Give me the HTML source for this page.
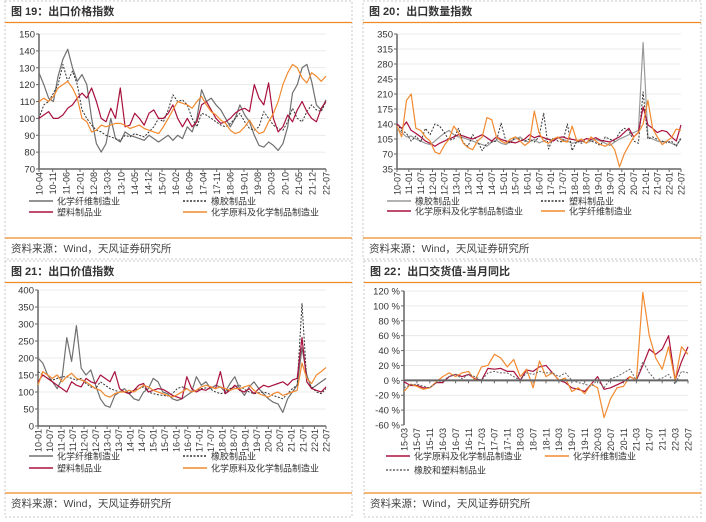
<!DOCTYPE html>
<html><head><meta charset="utf-8"><style>
body{margin:0;background:#fff;}
svg{display:block;font-family:"Liberation Sans","Noto Sans CJK SC",sans-serif;}
</style></head><body>
<svg id="s" width="706" height="522" viewBox="0 0 706 522" xmlns="http://www.w3.org/2000/svg"></svg>
<script>
// ---- Panel 1 data: export price index ----
const p1Labels=["10-04","10-11","11-06","12-01","12-08","13-03","13-10","14-05","14-12","15-07","16-02","16-09","17-04","17-11","18-06","19-01","19-08","20-03","20-10","21-05","21-12","22-07"];
const p1Fiber=[127,120,112,110,125,135,141,130,122,126,120,100,85,80,85,100,88,86,92,90,89,88,87,90,88,86,88,90,87,90,88,95,92,100,117,110,112,108,105,100,95,100,108,102,98,90,84,83,86,84,81,85,95,115,120,130,132,122,108,105,111];
const p1Rubber=[100,108,110,115,120,132,122,128,120,105,100,96,93,92,90,89,88,87,90,89,91,90,89,92,95,100,98,105,114,110,111,108,100,95,103,102,100,98,96,95,97,100,103,98,94,93,95,104,100,96,94,93,98,106,100,98,104,108,105,104,110];
const p1Plastic=[100,102,104,100,100,102,106,108,112,115,112,118,110,100,98,106,100,118,95,96,103,100,96,103,105,100,100,103,108,100,95,100,95,98,108,110,105,100,97,98,100,103,105,106,104,120,112,108,121,100,92,95,102,98,105,110,104,100,98,106,110];
const p1Chem=[110,112,110,113,118,120,122,118,112,100,98,92,93,96,95,96,97,97,96,94,95,96,94,93,92,91,95,100,105,110,109,108,106,110,113,108,104,102,99,97,93,91,92,95,99,94,91,92,98,103,110,120,127,132,130,124,121,127,125,122,125];
// ---- Panel 2 data: export volume index ----
const p2Labels=["10-07","11-01","11-07","12-01","12-07","13-01","13-07","14-01","14-07","15-01","15-07","16-01","16-07","17-01","17-07","18-01","18-07","19-01","19-07","20-01","20-07","21-01","21-07","22-01","22-07"];
const p2Rubber=[130,120,110,112,105,100,95,92,100,110,118,125,115,110,108,104,100,96,92,88,98,102,95,92,100,105,110,100,98,104,96,100,105,102,108,104,100,95,98,100,96,100,104,100,95,90,98,105,110,115,120,125,330,110,105,100,98,100,95,90,105];
const p2Plastic=[140,125,118,100,112,98,130,115,140,135,120,102,105,130,96,88,115,100,78,95,98,100,142,100,95,110,104,100,105,98,110,165,82,108,100,98,140,78,100,95,106,100,96,90,110,104,100,120,130,125,100,95,215,105,110,104,100,96,100,88,108];
const p2Chem=[140,130,145,125,118,110,100,95,88,95,100,105,110,115,112,108,105,110,115,108,100,110,104,100,98,96,100,105,115,108,112,108,104,100,108,110,106,104,102,100,106,104,108,102,100,98,104,110,120,130,110,120,180,138,130,120,125,122,110,100,138];
const p2Fiber=[135,110,195,210,130,125,110,100,75,70,90,105,135,120,95,85,80,100,110,155,150,110,100,95,105,110,100,90,98,170,120,100,95,105,110,100,98,135,100,105,95,110,100,92,88,95,80,40,70,90,110,120,140,195,130,110,92,100,108,128,125];
// ---- Panel 3 data: export value index ----
const p3Labels=["10-01","10-07","11-01","11-07","12-01","12-07","13-01","13-07","14-01","14-07","15-01","15-07","16-01","16-07","17-01","17-07","18-01","18-07","19-01","19-07","20-01","20-07","21-01","21-07","22-01","22-07"];
const p3Fiber=[200,185,150,130,110,140,260,190,295,170,150,165,120,80,60,55,90,100,110,95,80,75,100,110,140,130,100,95,80,75,80,90,100,145,120,130,110,120,115,100,125,145,110,90,115,130,110,95,80,70,65,40,80,100,120,230,150,110,120,130,140];
const p3Rubber=[160,150,140,135,140,145,145,140,135,140,125,115,110,130,120,110,105,100,100,98,105,110,115,100,95,92,90,88,95,110,115,110,100,105,110,112,108,100,95,98,110,115,120,108,100,95,98,100,95,90,85,80,95,110,120,360,130,115,100,95,110];
const p3Plastic=[130,150,140,130,120,110,100,130,120,115,140,130,125,150,140,130,160,110,100,95,105,120,125,100,105,110,108,100,90,85,80,145,110,100,108,105,115,110,160,95,105,120,105,100,110,95,110,120,115,120,125,130,120,135,140,260,130,110,105,100,115];
const p3Chem=[120,160,150,140,150,130,145,155,140,135,130,120,110,105,90,85,95,100,100,105,100,110,120,115,105,100,95,90,85,92,100,110,100,105,115,120,115,110,115,110,105,110,110,115,120,105,95,90,85,95,100,90,95,100,105,185,140,125,150,160,172];
// ---- Panel 4 data: export value YoY (%) ----
const p4Labels=["15-03","15-07","15-11","16-03","16-07","16-11","17-03","17-07","17-11","18-03","18-07","18-11","19-03","19-07","19-11","20-03","20-07","20-11","21-03","21-07","21-11","22-03","22-07"];
const p4Chem=[-2,-7,-7,-10,-10,-3,-3,5,8,5,8,2,0,16,15,16,12,12,0,14,12,18,20,10,0,-3,-10,-12,-15,-5,5,-12,-10,-6,-2,5,0,20,42,35,42,60,0,25,45];
const p4Fiber=[-15,-5,-8,-12,-10,-2,5,10,5,10,12,0,18,20,35,30,18,28,5,15,-10,26,5,10,0,3,-15,-10,-18,-5,-10,-50,-25,-10,-8,5,0,118,60,30,15,45,0,45,35];
const p4RubPlas=[-10,-6,-5,-8,-10,-3,0,5,8,2,8,5,0,10,12,10,10,5,0,10,8,12,10,10,5,10,0,-3,-5,-8,0,-10,2,5,10,15,0,25,10,0,3,8,-5,12,10];

const NS="http://www.w3.org/2000/svg";
const svg=document.getElementById('s');
function mk(tag,attrs,parent){const e=document.createElementNS(NS,tag);for(const k in attrs)e.setAttribute(k,attrs[k]);(parent||svg).appendChild(e);return e;}
function txt(x,y,s,attrs,parent){const t=mk('text',Object.assign({x:x,y:y},attrs),parent);t.textContent=s;return t;}

function panel(cfg){
  const g=mk('g',{});
  
  
  const fr=mk('rect',{x:cfg.bx,y:cfg.by,width:cfg.bw,height:cfg.bh,fill:'none',stroke:'#c8c8c8','stroke-dasharray':'2,2'},g);
  
  const tt=txt(cfg.bx+6,cfg.by+14,cfg.title,{'font-size':'11','font-weight':'bold',fill:'#333'},g);
  
  mk('line',{x1:cfg.bx,x2:cfg.bx+cfg.bw,y1:cfg.by+21.5,y2:cfg.by+21.5,stroke:'#f08a24','stroke-width':1.2},g);
  mk('line',{x1:cfg.bx,x2:cfg.bx+cfg.bw,y1:cfg.fy,y2:cfg.fy,stroke:'#f08a24','stroke-width':1.2},g);
  const src=txt(cfg.bx+6,cfg.fy+14,'资料来源：Wind，天风证券研究所',{'font-size':'10.5',fill:'#444'},g);
  
  const {x0,x1,y0,y1,vmin,vmax}=cfg;
  const ys=v=>y1-(v-vmin)/(vmax-vmin)*(y1-y0);
  for(let v=vmin;v<=vmax+1e-9;v+=cfg.step){
    const y=ys(v);
    if(v!==vmin && !(cfg.zero!==undefined&&v===0)) mk('line',{x1:x0,x2:x1,y1:y,y2:y,stroke:'#e4e4e4','stroke-width':0.8},g);
    mk('line',{x1:x0-3,x2:x0,y1:y,y2:y,stroke:'#666'},g);
    const t=txt(x0-4,y+3.5,v+(cfg.suffix||''),{'font-size':'9.5',fill:'#333','text-anchor':'end'},g);
    
  }
  mk('line',{x1:x0,x2:x0,y1:y0,y2:y1,stroke:'#666','stroke-width':1.5},g);
  const axY=cfg.zero!==undefined?ys(0):y1;
  const L=cfg.labels;
  L.forEach((s,i)=>{
    const x=x0+i/(L.length-1)*(x1-x0);
    mk('line',{x1:x,x2:x,y1:axY,y2:axY+3,stroke:'#666'},g);
    const t=txt(0,0,s,{'font-size':'9',fill:'#333','text-anchor':'end',transform:`translate(${x+3.3},${y1+3}) rotate(-90)`},g);
    
  });
  cfg.series.forEach(s=>{
    const n=s.data.length;
    const pts=s.data.map((v,i)=>(x0+i/(n-1)*(x1-x0)).toFixed(1)+','+ys(v).toFixed(1)).join(' ');
    const p=mk('polyline',{points:pts,fill:'none',stroke:s.color,'stroke-width':s.w||1.2,'stroke-dasharray':s.dash||'none','stroke-linejoin':'round'},g);
    
    
  });
  mk('line',{x1:x0,x2:x1,y1:axY,y2:axY,stroke:'#666','stroke-width':cfg.zero!==undefined?2:1.5},g);
  cfg.legend.forEach(l=>{
    mk('line',{x1:l.x,x2:l.x+24,y1:l.y,y2:l.y,stroke:l.color,'stroke-width':1.5,'stroke-dasharray':l.dash||'none'},g);
    const t=txt(l.x+28,l.y+3.5,l.text,{'font-size':'9',fill:'#333'},g);
    
  });
}
const GRAY='#707070',RED='#a8123e',ORG='#f28a30',DASH='#333';
panel({name:'panel-price-index',bx:5,by:1,bw:347,bh:258,fy:238,title:'图 19：出口价格指数',x0:39,x1:326,y0:34,y1:169,vmin:70,vmax:150,step:10,labels:p1Labels,
 series:[{id:'fiber-line',data:p1Fiber,color:GRAY},{id:'rubber-line',data:p1Rubber,color:DASH,dash:'2,1.5',w:1},{id:'plastic-line',data:p1Plastic,color:RED},{id:'chem-line',data:p1Chem,color:ORG}],
 legend:[{x:29,y:201,color:GRAY,text:'化学纤维制造业'},{x:183,y:201,color:DASH,dash:'2,1.5',text:'橡胶制品业'},{x:29,y:212,color:RED,text:'塑料制品业'},{x:183,y:212,color:ORG,text:'化学原料及化学制品制造业'}]});
panel({name:'panel-volume-index',bx:363,by:1,bw:338,bh:258,fy:238,title:'图 20：出口数量指数',x0:397,x1:681,y0:34,y1:169,vmin:35,vmax:350,step:35,labels:p2Labels,
 series:[{id:'rubber-line',data:p2Rubber,color:'#999'},{id:'plastic-line',data:p2Plastic,color:DASH,dash:'2,1.5',w:1},{id:'chem-line',data:p2Chem,color:RED},{id:'fiber-line',data:p2Fiber,color:ORG}],
 legend:[{x:387,y:201,color:'#999',text:'橡胶制品业'},{x:541,y:201,color:DASH,dash:'2,1.5',text:'塑料制品业'},{x:387,y:211,color:RED,text:'化学原料及化学制品制造业'},{x:541,y:211,color:ORG,text:'化学纤维制造业'}]});
panel({name:'panel-value-index',bx:5,by:261,bw:347,bh:256,fy:493,title:'图 21：出口价值指数',x0:38,x1:326,y0:290,y1:426,vmin:0,vmax:400,step:50,labels:p3Labels,
 series:[{id:'fiber-line',data:p3Fiber,color:GRAY},{id:'rubber-line',data:p3Rubber,color:DASH,dash:'2,1.5',w:1},{id:'plastic-line',data:p3Plastic,color:RED},{id:'chem-line',data:p3Chem,color:ORG}],
 legend:[{x:29,y:456,color:GRAY,text:'化学纤维制造业'},{x:183,y:456,color:DASH,dash:'2,1.5',text:'橡胶制品业'},{x:29,y:468,color:RED,text:'塑料制品业'},{x:183,y:468,color:ORG,text:'化学原料及化学制品制造业'}]});
panel({name:'panel-value-yoy',bx:364,by:261,bw:337,bh:256,fy:493,title:'图 22：出口交货值-当月同比',x0:404,x1:688,y0:291,y1:425,vmin:-60,vmax:120,step:20,suffix:' %',zero:0,labels:p4Labels,
 series:[{id:'chem-line',data:p4Chem,color:RED},{id:'fiber-line',data:p4Fiber,color:ORG},{id:'rubber-plastic-line',data:p4RubPlas,color:'#666',dash:'2,1.5',w:1}],
 legend:[{x:386,y:456,color:RED,text:'化学原料及化学制品制造业'},{x:545,y:456,color:ORG,text:'化学纤维制造业'},{x:386,y:470,color:'#666',dash:'2,1.5',text:'橡胶和塑料制品业'}]});
</script>
</body></html>
